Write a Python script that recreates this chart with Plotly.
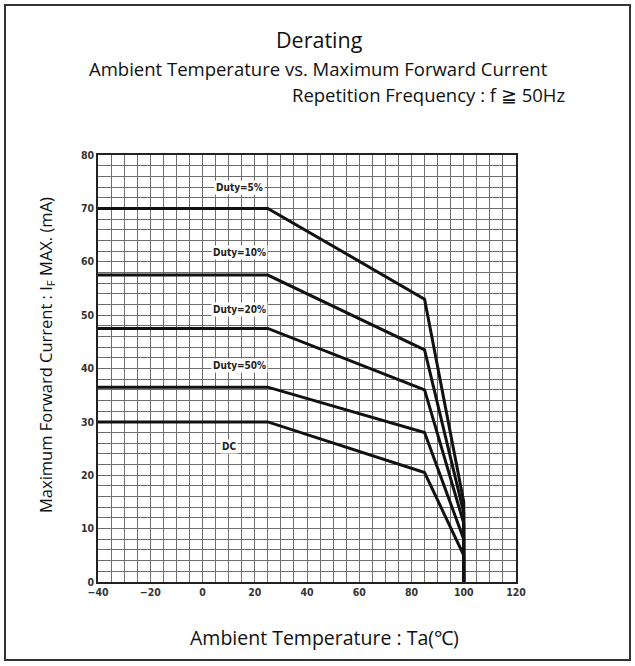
import plotly.graph_objects as go

# ---- data ----
temp_points = [-40, 25, 85, 100, 100]
duty5 = [70, 70, 53, 15, 0]
duty10 = [57.5, 57.5, 43.5, 13, 0]
duty20 = [47.5, 47.5, 36, 11, 0]
duty50 = [36.5, 36.5, 28, 8, 0]
dc = [30, 30, 20.5, 5, 0]

series = [("Duty=5%", duty5), ("Duty=10%", duty10), ("Duty=20%", duty20),
          ("Duty=50%", duty50), ("DC", dc)]

label_names = ["Duty=5%", "Duty=10%", "Duty=20%", "Duty=50%", "DC"]
label_x = [14, 14, 14, 14, 10]
label_y = [74, 61.7, 51, 40.6, 25.3]

x_ticks = [-40, -20, 0, 20, 40, 60, 80, 100, 120]
y_ticks = [0, 10, 20, 30, 40, 50, 60, 70, 80]

OFF = 0                      # body margin removed by post_script
W, H = 635, 666
L, T = 98, 155
pw, ph = 418, 427
R, B = W - L - pw, H - T - ph


def px(xs):                  # screen x pixel -> paper
    return (xs - OFF - L) / pw


def py(ys):                  # screen y pixel -> paper
    return (T + ph - (ys - OFF)) / ph


fig = go.Figure()
for name, vals in series:
    fig.add_trace(go.Scatter(x=temp_points, y=vals, mode="lines", name=name,
                             line=dict(color="#111111", width=3),
                             showlegend=False, hoverinfo="skip"))

tick_font = dict(family="Liberation Sans Narrow, DejaVu Sans Condensed, sans-serif",
                 size=10.5, color="#333333", weight="bold")
grid_col = "#6e6e6e"

fig.update_xaxes(range=[-40, 120], tickvals=x_ticks, ticks="", showgrid=True,
                 gridcolor=grid_col, gridwidth=1, zeroline=False,
                 showline=True, linecolor="#222222", linewidth=1.5, mirror=True,
                 tickfont=tick_font,
                 minor=dict(dtick=5, showgrid=True, gridcolor=grid_col, gridwidth=1))
fig.update_yaxes(range=[0, 80], tickvals=y_ticks, ticks="", showgrid=True,
                 gridcolor=grid_col, gridwidth=1, zeroline=False,
                 showline=True, linecolor="#222222", linewidth=1.5, mirror=True,
                 tickfont=tick_font,
                 minor=dict(dtick=2, showgrid=True, gridcolor=grid_col, gridwidth=1))

for name, lx, ly in zip(label_names, label_x, label_y):
    fig.add_annotation(x=lx, y=ly, xref="x", yref="y", text=name, showarrow=False,
                       bgcolor="white",
                       font=dict(family="Liberation Sans Narrow, DejaVu Sans Condensed, sans-serif",
                                 size=10, color="#222222", weight="bold"))

text_font = "Open Sans, Lato, sans-serif"
C = dict(xref="paper", yref="paper", showarrow=False, yanchor="middle")
fig.add_annotation(x=px(319), y=py(40), xanchor="center", text="Derating",
                   font=dict(family=text_font, size=21.5, color="#111"), **C)
fig.add_annotation(x=px(318), y=py(68), xanchor="center",
                   text="Ambient Temperature vs. Maximum Forward Current",
                   font=dict(family=text_font, size=18.5, color="#111"), **C)
fig.add_annotation(x=px(567), y=py(94.5), xanchor="right",
                   text="Repetition Frequency : f \u2267 50Hz",
                   font=dict(family=text_font, size=18.5, color="#111"), **C)
fig.add_annotation(x=px(324), y=py(637), xanchor="center",
                   text="Ambient Temperature : Ta(\u2103)",
                   font=dict(family=text_font, size=19.5, color="#111"), **C)
fig.add_annotation(x=px(46), y=py(355), xanchor="center", textangle=-90,
                   text="Maximum Forward Current : I<sub>F</sub> MAX. (mA)",
                   font=dict(family=text_font, size=16.5, color="#111"), **C)

fig.add_shape(type="rect", xref="paper", yref="paper",
              x0=px(5), x1=px(630), y0=py(660), y1=py(5),
              line=dict(color="#333333", width=2), fillcolor="rgba(0,0,0,0)", layer="above")

fig.update_layout(width=W, height=H, autosize=False,
                  margin=dict(l=L, r=R, t=T, b=B),
                  paper_bgcolor="white", plot_bgcolor="white", showlegend=False)

fig.write_html("out.html", config={"displayModeBar": False},
               post_script="document.body.style.margin='0';document.body.style.overflow='hidden';")
